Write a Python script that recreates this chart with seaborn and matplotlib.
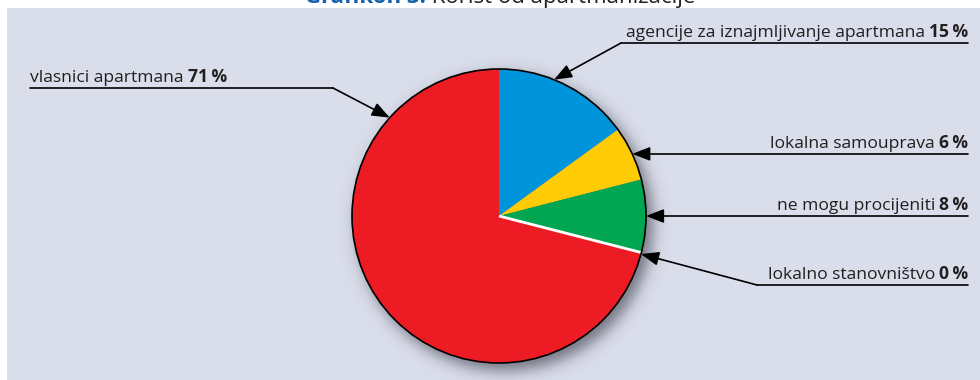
import numpy as np
import matplotlib
matplotlib.use("Agg")
import matplotlib.pyplot as plt
import seaborn as sns
from matplotlib.patches import Circle, Rectangle

# Survey answers: who benefits from apartment building
categories = [
    "agencije za iznajmljivanje apartmana",
    "lokalna samouprava",
    "ne mogu procijeniti",
    "lokalno stanovništvo",
    "vlasnici apartmana",
]
shares = [15, 6, 8, 0, 71]
colors = ["#0095da", "#ffcb05", "#00a651", "#ffffff", "#ed1c24"]

title_num = "Grafikon 3."
title_txt = "Korist od apartmanizacije"

sns.set_theme(style="white")
plt.rcParams["font.family"] = ["Open Sans", "DejaVu Sans"]

W, H = 980, 380
fig = plt.figure(figsize=(W / 100, H / 100), dpi=100, facecolor="white")
ax = fig.add_axes([0, 0, 1, 1])
ax.set_facecolor("none")


def py(y):
    return H - y


# panel background
ax.add_patch(Rectangle((7, 0), W - 7, H - 8, facecolor="#dadeea",
                       edgecolor="none", zorder=0))

cx, cy, r = 499, py(216), 147

# soft drop shadow behind the pie
gx = np.linspace(cx - r - 40, cx + r + 40, 400)
gy = np.linspace(cy - r - 40, cy + r + 40, 400)
XX, YY = np.meshgrid(gx, gy)
d = np.hypot(XX - (cx + 6), YY - (cy - 7))
alpha = 0.65 / (1 + np.exp((d - (r + 1)) / 4.5))
img = np.zeros(XX.shape + (4,))
img[..., 0] = 0.22
img[..., 1] = 0.22
img[..., 2] = 0.28
img[..., 3] = alpha
ax.imshow(img, extent=(gx[0], gx[-1], gy[0], gy[-1]), origin="lower",
          interpolation="bilinear", zorder=1)

wedges, _ = ax.pie(shares, colors=colors, startangle=90, counterclock=False,
                   center=(cx, cy), radius=r,
                   wedgeprops=dict(linewidth=0))
for w, v in zip(wedges, shares):
    w.set_zorder(2)
    if v == 0:
        w.set_edgecolor("white")
        w.set_linewidth(2)
        w.set_zorder(3)
ax.add_patch(Circle((cx, cy), r, fill=False, edgecolor="black", lw=1.2, zorder=4))

fs = 12.6
ink = "#231f20"
xr = 968  # right edge of right-hand labels


def tip(angle):
    a = np.deg2rad(angle)
    return cx + r * np.cos(a), cy + r * np.sin(a)


arrow_kw = dict(arrowstyle="-|>,head_length=0.9,head_width=0.35", color="black",
                lw=1.2, shrinkA=0, shrinkB=0)


def right_label(i, line_y, x0):
    t = ax.text(xr, py(line_y - 6), f"{shares[i]}\u2009%", ha="right",
                va="baseline", fontsize=fs, fontweight="bold", color=ink, zorder=5)
    ax.annotate(categories[i], xy=(0, 0), xycoords=t, xytext=(-4, 0),
                textcoords="offset pixels", ha="right", va="bottom",
                fontsize=fs, color=ink, zorder=5)
    ax.plot([x0, xr], [py(line_y), py(line_y)], color="black", lw=1.2, zorder=5)


# agencije
t0 = tip(68)
right_label(0, 43, 621)
ax.annotate("", xy=t0, xytext=(621, py(43)), arrowprops=arrow_kw, zorder=5)

# lokalna samouprava
t1 = tip(25)
right_label(1, py(t1[1]), t1[0] + 8)
ax.annotate("", xy=t1, xytext=(t1[0] + 12, t1[1]), arrowprops=arrow_kw, zorder=5)

# ne mogu procijeniti
t2 = tip(0)
right_label(2, py(t2[1]), t2[0] + 8)
ax.annotate("", xy=t2, xytext=(t2[0] + 12, t2[1]), arrowprops=arrow_kw, zorder=5)

# lokalno stanovnistvo
t3 = tip(-15)
right_label(3, 285, 757)
ax.annotate("", xy=t3, xytext=(757, py(285)), arrowprops=arrow_kw, zorder=5)

# vlasnici apartmana
t4 = tip(138)
tl = ax.text(30, py(82), categories[4] + " ", ha="left", va="baseline",
             fontsize=fs, color=ink, zorder=5)
ax.annotate(f"{shares[4]}\u2009%", xy=(1, 0), xycoords=tl, ha="left", va="bottom",
            fontsize=fs, fontweight="bold", color=ink, zorder=5)
ax.plot([30, 333], [py(88), py(88)], color="black", lw=1.2, zorder=5)
ax.annotate("", xy=t4, xytext=(333, py(88)), arrowprops=arrow_kw, zorder=5)

# title, partly above the top edge
tt = ax.text(305, py(3), title_num, ha="left", va="baseline", fontsize=16,
             fontweight="bold", color="#1560ad", zorder=6)
ax.annotate(" " + title_txt, xy=(1, 0), xycoords=tt, ha="left", va="bottom",
            fontsize=16, color=ink, zorder=6)

ax.set_xlim(0, W)
ax.set_ylim(0, H)
ax.set_aspect("equal")
ax.axis("off")

fig.savefig("out.png", dpi=100, facecolor="white")
